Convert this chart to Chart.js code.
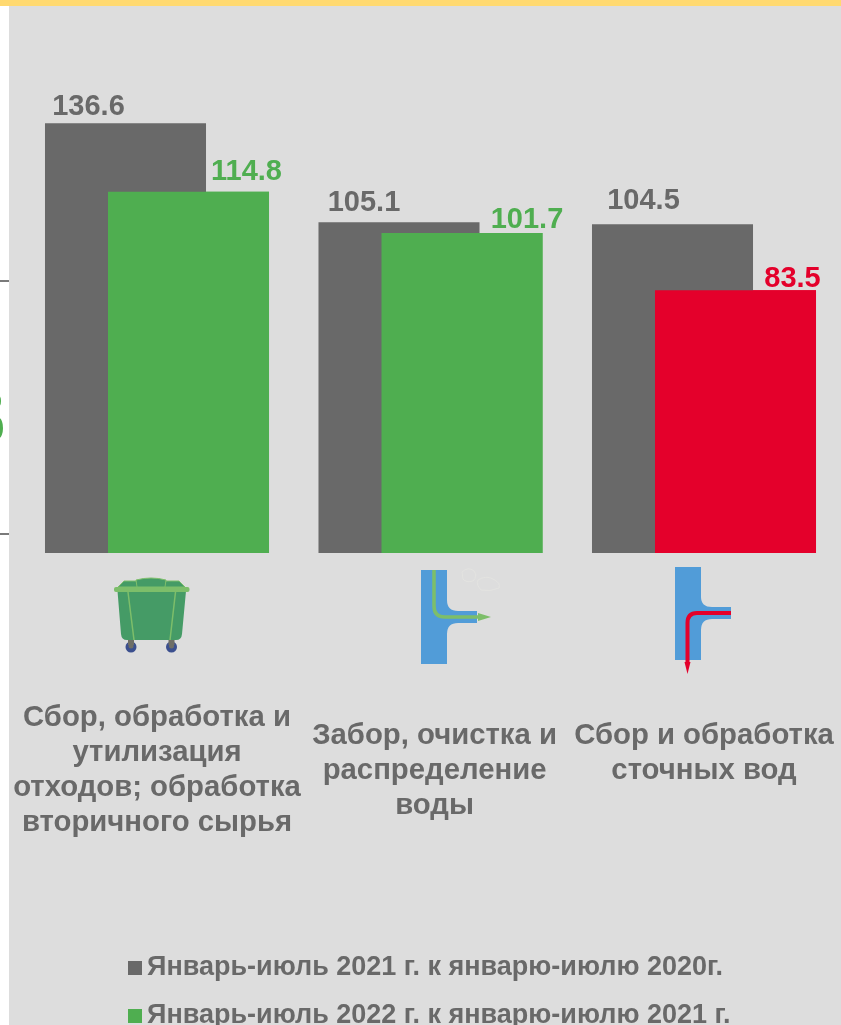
<!DOCTYPE html>
<html lang="ru">
<head>
<meta charset="utf-8">
<title>Chart</title>
<style>
html,body{margin:0;padding:0;background:#DDDDDD;width:841px;height:1025px;overflow:hidden}
#stage{position:relative;width:841px;height:1025px}
#strip{position:absolute;left:0;top:0;width:9px;height:1025px;background:#fff}
#top{position:absolute;left:0;top:0;width:841px;height:6px;background:#FFD970}
canvas{position:absolute;left:0;top:0}
svg{position:absolute;left:0;top:0;pointer-events:none}
</style>
</head>
<body>
<div id="stage">
<div id="strip"></div>
<div id="top"></div>
<canvas id="c" width="841" height="1025"></canvas>
<svg width="841" height="1025" viewBox="0 0 841 1025">
  <!-- fragments of the neighbouring panel -->
  <rect x="0" y="280" width="9" height="2" fill="#7a7a7a"/>
  <rect x="0" y="533" width="9" height="2" fill="#7a7a7a"/>
  <ellipse cx="-1" cy="401" rx="2" ry="5" fill="#4FAE50"/>
  <ellipse cx="-1" cy="428" rx="4" ry="10" fill="#4FAE50"/>
  <!-- waste bin -->
  <g>
    <circle cx="131" cy="647" r="5.5" fill="#3B4F8E"/><circle cx="131" cy="646" r="2.5" fill="#6E6E66"/>
    <circle cx="171.5" cy="647" r="5.5" fill="#3B4F8E"/><circle cx="171.5" cy="646" r="2.5" fill="#6E6E66"/>
    <rect x="128" y="639" width="6" height="6" fill="#6E6E66"/><rect x="168.5" y="639" width="6" height="6" fill="#6E6E66"/>
    <path d="M117.5 591 H186 L182 634 Q181.5 640 176 640 H127 Q121.5 640 121 634 Z" fill="#459B66"/>
    <path d="M128 592 L134 640 M175.5 592 L170 640" stroke="#7DBE6A" stroke-width="1.5" fill="none"/>
    <path d="M118 587 L124 581 H136 L138 587 Z M185 587 L179 581 H166 L164 587 Z" fill="#459B66" stroke="#7DBE6A" stroke-width="1"/>
    <path d="M137 587 L136 580 Q151 576 166 580 L165 587 Z" fill="#459B66" stroke="#7DBE6A" stroke-width="1"/>
    <rect x="114" y="587" width="75.5" height="5" rx="2" fill="#7DBE6A"/>
  </g>
  <!-- water supply -->
  <path d="M462 572 Q468 566 474 571 Q478 576 473 581 Q466 583 463 579 Z M478 580 Q486 575 493 579 Q501 583 499 588 Q490 592 481 590 Q476 585 478 580 Z" fill="none" stroke="#E3E3E0" stroke-width="1"/>
  <path d="M421 570 H447 V600 Q447 611 458 611 H477 V623 H458 Q447 623 447 634 V664 H421 Z" fill="#519CD8"/>
  <path d="M434 570 V606 Q434 617 445 617 H481" fill="none" stroke="#7DBE6A" stroke-width="3.5"/>
  <path d="M478 613 L491 617 L478 621 Z" fill="#7DBE6A"/>
  <!-- waste water -->
  <path d="M675 567 H701 V597 Q701 607 712 607 H731 V619 H712 Q701 619 701 630 V660 H675 Z" fill="#519CD8"/>
  <path d="M731 613 H697 Q687.5 613 687.5 623 V664" fill="none" stroke="#E4002B" stroke-width="4"/>
  <path d="M684.5 662 H690.5 L687.5 674 Z" fill="#E4002B"/>
</svg>
</div>
<script src="https://cdn.jsdelivr.net/npm/chart.js@4"></script>
<script>
const categories = [
  ["Сбор, обработка и", "утилизация", "отходов; обработка", "вторичного сырья"],
  ["\u00A0Забор, очистка и", "\u00A0распределение", "\u00A0воды"],
  ["Сбор и обработка", "сточных вод", ""]
];
const seriesNames = [
  "Январь-июль 2021 г. к январю-июлю 2020г.",
  "Январь-июль 2022 г. к январю-июлю 2021 г."
];
const values2021 = [136.6, 105.1, 104.5];
const values2022 = [114.8, 101.7, 83.5];
const colors2021 = ["#696969", "#696969", "#696969"];
const colors2022 = ["#4FAE50", "#4FAE50", "#E4002B"];

// label offsets relative to the top-centre of each bar
const labelShift2021 = [[-37, -16], [-35, -19], [-29, -23]];
const labelShift2022 = [[58, -20], [65, -13], [57, -11]];

const FONT = "'Liberation Sans', Arial, sans-serif";

// the earlier series sits on the left, but the later one overlaps it
const overlapAndLabels = {
  id: "overlapAndLabels",
  afterDatasetsDraw(chart) {
    chart.getDatasetMeta(1).controller.draw();
    const ctx = chart.ctx;
    ctx.save();
    ctx.font = "bold 29px " + FONT;
    ctx.textAlign = "center";
    ctx.textBaseline = "middle";
    chart.data.datasets.forEach((ds, d) => {
      const shift = d === 0 ? labelShift2021 : labelShift2022;
      const cols = d === 0 ? colors2021 : colors2022;
      chart.getDatasetMeta(d).data.forEach((bar, i) => {
        ctx.fillStyle = cols[i];
        ctx.fillText(ds.data[i].toFixed(1), bar.x + shift[i][0], bar.y + shift[i][1]);
      });
    });
    ctx.restore();
  }
};

const legendPlace = {
  id: "legendPlace",
  beforeDraw(chart) {
    chart.legend.left = 111.5;
    chart.legend.top = 933.5;
  }
};

// legend swatch: 14px square drawn 10px in from the edge of a 30px sprite
function swatch(color) {
  const c = document.createElement("canvas");
  c.width = 30; c.height = 14;
  const g = c.getContext("2d");
  g.fillStyle = color;
  g.fillRect(10, 0, 14, 14);
  return c;
}

new Chart(document.getElementById("c"), {
  type: "bar",
  data: {
    labels: categories,
    datasets: [
      { label: seriesNames[0], data: values2021, backgroundColor: colors2021 },
      { label: seriesNames[1], data: values2022, backgroundColor: colors2022 }
    ]
  },
  plugins: [overlapAndLabels, legendPlace],
  options: {
    responsive: false,
    animation: false,
    devicePixelRatio: 1,
    layout: { padding: { left: 20.25, right: 0.25, top: 81, bottom: 0 } },
    datasets: { bar: { categoryPercentage: 0.4607, barPercentage: 2.556 } },
    scales: {
      x: {
        grid: { display: false, drawTicks: false },
        border: { display: false },
        ticks: {
          autoSkip: false, maxRotation: 0, minRotation: 0,
          crossAlign: "center",
          padding: 165,
          color: "#696969",
          font: { family: FONT, size: 29.3, weight: "bold", lineHeight: "35px" }
        },
        afterFit(s) { s.paddingLeft = 0; s.paddingRight = 0; s.height = 366; }
      },
      y: { display: false, min: 0, max: 150 }
    },
    plugins: {
      tooltip: { enabled: false },
      legend: {
        position: "bottom",
        align: "start",
        labels: {
          usePointStyle: true, pointStyleWidth: 1, boxHeight: 15, padding: 21,
          color: "#696969",
          font: { family: FONT, size: 27, weight: "bold" },
          generateLabels(chart) {
            return chart.data.datasets.map((ds, i) => ({
              text: ds.label,
              pointStyle: swatch(i === 0 ? colors2021[0] : colors2022[0]),
              fillStyle: i === 0 ? colors2021[0] : colors2022[0],
              fontColor: "#696969",
              strokeStyle: "transparent", lineWidth: 0, datasetIndex: i
            }));
          }
        }
      }
    }
  }
});
</script>
</body>
</html>
